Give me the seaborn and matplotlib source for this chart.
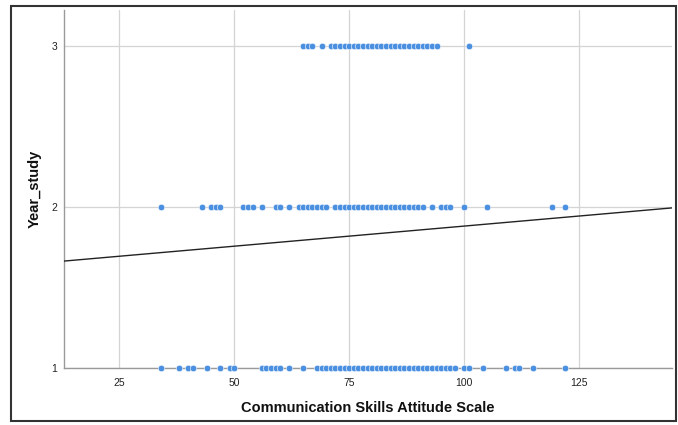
import matplotlib
matplotlib.use("Agg")
import matplotlib.pyplot as plt
import seaborn as sns
import pandas as pd
from matplotlib.patches import Rectangle

# Data
year1_scores = [34, 38, 40, 41, 44, 47, 49, 50, 56, 57, 58, 59, 60, 62, 65,
                68, 69, 70, 71, 72, 73, 74, 75, 76, 77, 78, 79, 80, 81, 82, 83, 84,
                85, 86, 87, 88, 89, 90, 91, 92, 93, 94, 95, 96, 97, 98, 100, 101,
                104, 109, 111, 112, 115, 122]
year2_scores = [34, 43, 45, 46, 47, 52, 53, 54, 56, 59, 60, 62, 64, 65, 66, 67,
                68, 69, 70, 72, 73, 74, 75, 76, 77, 78, 79, 80, 81, 82, 83, 84, 85,
                86, 87, 88, 89, 90, 91, 93, 95, 96, 97, 100, 105, 119, 122]
year3_scores = [65, 66, 67, 69, 71, 72, 73, 74, 75, 76, 77, 78, 79, 80, 81, 82,
                83, 84, 85, 86, 87, 88, 89, 90, 91, 92, 93, 94, 101]
fit_intercept = 1.632
fit_slope = 0.0025
x_ticks = [25, 50, 75, 100, 125]
y_ticks = [1, 2, 3]
x_label = "Communication Skills Attitude Scale"
y_label = "Year_study"

df = pd.DataFrame({
    "score": year1_scores + year2_scores + year3_scores,
    "year": [1] * len(year1_scores) + [2] * len(year2_scores) + [3] * len(year3_scores),
})

sns.set_theme(style="white")
plt.rcParams["font.family"] = ["Liberation Sans", "DejaVu Sans"]

fig = plt.figure(figsize=(6.78, 4.25), dpi=100)
ax = fig.add_axes([64 / 678, 1 - 368 / 425, (672 - 64) / 678, (368 - 10) / 425])

ax.set_xlim(13, 145.2)
ax.set_ylim(1, 3.225)
ax.set_xticks(x_ticks)
ax.set_yticks(y_ticks)
ax.grid(True, color="#d4d4d4", linewidth=0.9)
ax.set_axisbelow(True)

sns.scatterplot(data=df, x="score", y="year", ax=ax, color="#4a8fe0",
                s=22, edgecolor="white", linewidth=0.4, clip_on=False, zorder=3)
ax.axline((0, fit_intercept), slope=fit_slope, color="#222222", linewidth=1.0, zorder=4)

for s in ["top", "right"]:
    ax.spines[s].set_visible(False)
for s in ["left", "bottom"]:
    ax.spines[s].set_color("#9a9a9a")
    ax.spines[s].set_linewidth(1.0)

ax.tick_params(axis="both", length=0, labelsize=7.5, colors="#222222")
ax.tick_params(axis="x", pad=7)
ax.tick_params(axis="y", pad=5)
ax.set_xlabel(x_label, fontsize=10.5, fontweight="bold", color="#111111")
ax.set_ylabel(y_label, fontsize=10.5, fontweight="bold", color="#111111")
ax.xaxis.set_label_coords(0.5, (368 - 408) / 358, transform=ax.transAxes)
ax.yaxis.set_label_coords((35 - 64) / 608, 0.5, transform=ax.transAxes)
ax.xaxis.label.set_va("center")
ax.yaxis.label.set_va("center")

fig.patches.append(Rectangle((11 / 678, 1 - 421 / 425), (676 - 11) / 678, (421 - 6) / 425,
                             transform=fig.transFigure, fill=False,
                             edgecolor="#333333", linewidth=1.5))

fig.savefig("out.png", dpi=100)
